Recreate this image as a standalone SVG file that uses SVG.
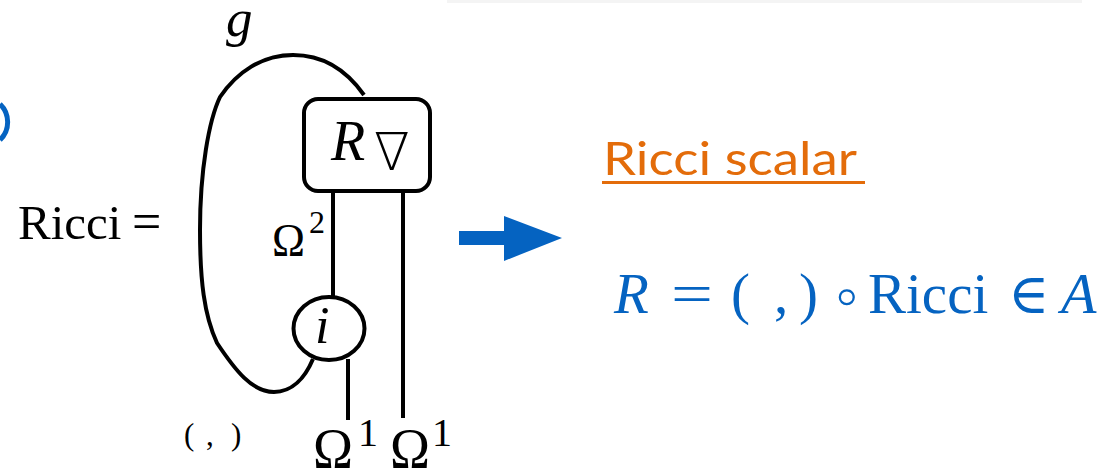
<svg xmlns="http://www.w3.org/2000/svg" width="1115" height="476" viewBox="0 0 1115 476">
  <style>
    .serif { font-family: "Liberation Serif", "DejaVu Serif", serif; fill: #000; }
    .it { font-style: italic; }
    .math { font-family: "DejaVu Sans", "DejaVu Serif", sans-serif; font-weight: 200; }
    .wire { fill: none; stroke: #000; stroke-width: 4; stroke-linecap: butt; stroke-linejoin: round; }
    .blue { fill: #0563C1; }
    .orange { fill: #E36C0A; font-family: "Lato", "Open Sans", sans-serif; }
  </style>
  <rect id="topline" x="447" y="0" width="635" height="3" fill="#f4f4f4"/>
  <path id="blue-ring" d="M 0 104 A 25 25 0 0 1 0 140" fill="none" stroke="#0563C1" stroke-width="5"/>
  <g id="ricci-label">
    <text class="serif" x="18" y="239" font-size="49">Ricci</text>
    <text class="serif" x="132" y="239" font-size="52">=</text>
  </g>
  <g id="g-label">
    <text class="serif it" x="226" y="36" font-size="53">g</text>
  </g>
  <g id="connectors">
    <path class="wire" d="M 364 95 C 345 68, 322 55, 293 55 C 262 55, 237 72, 220 97 C 209 120, 200 170, 200 230 C 200 280, 204 315, 217 343 C 235 370, 252 392, 274 392 C 292 392, 305 378, 313 359"/>
    <line class="wire" x1="333" y1="191" x2="333" y2="297"/>
    <line class="wire" x1="403" y1="191" x2="403" y2="418"/>
    <line class="wire" x1="348" y1="359" x2="348" y2="420"/>
  </g>
  <g id="node-R">
    <rect class="wire" x="304" y="99" width="126" height="92" rx="14" fill="#fff"/>
    <text class="serif it" x="331" y="160" font-size="56">R</text>
    <text class="math" x="374" y="170" font-size="52">∇</text>
  </g>
  <g id="node-i">
    <ellipse class="wire" cx="329" cy="328.5" rx="35.5" ry="31.5" fill="#fff"/>
    <text class="serif it" x="315" y="343" font-size="52">i</text>
  </g>
  <g id="omega2">
    <text class="serif" x="272" y="256" font-size="46" textLength="33" lengthAdjust="spacingAndGlyphs">Ω</text>
    <text class="serif" x="309" y="233" font-size="32">2</text>
  </g>
  <g id="pairing">
    <text class="serif" font-size="31" y="445"><tspan x="184">(</tspan><tspan x="206">,</tspan><tspan x="231">)</tspan></text>
  </g>
  <g id="omega1-a">
    <text class="serif" x="313" y="468" font-size="58" textLength="40" lengthAdjust="spacingAndGlyphs">Ω</text>
    <text class="serif" x="358" y="446" font-size="40">1</text>
  </g>
  <g id="omega1-b">
    <text class="serif" x="390" y="468" font-size="58" textLength="40" lengthAdjust="spacingAndGlyphs">Ω</text>
    <text class="serif" x="432" y="446" font-size="40">1</text>
  </g>
  <g id="arrow">
    <polygon class="blue" points="459,231 504,231 504,216 562,238 504,261 504,245 459,245"/>
  </g>
  <g id="title">
    <text class="orange" x="603" y="175" font-size="47" textLength="254" lengthAdjust="spacingAndGlyphs">Ricci scalar</text>
    <rect x="602" y="181" width="263" height="3" fill="#E36C0A"/>
  </g>
  <g id="formula">
    <text class="serif it blue" x="614" y="313" font-size="57">R</text>
    <text class="serif blue" x="671" y="313" font-size="57" textLength="42" lengthAdjust="spacingAndGlyphs">=</text>
    <text class="serif blue" x="731" y="313" font-size="57">(</text>
    <text class="serif blue" x="774" y="313" font-size="57">,</text>
    <text class="serif blue" x="799" y="313" font-size="57">)</text>
    <text class="math blue" x="828" y="316" font-size="60">∘</text>
    <text class="serif blue" x="868" y="313" font-size="57">Ricci</text>
    <text class="math blue" x="1008" y="313" font-size="56">∈</text>
    <text class="serif it blue" x="1061" y="313" font-size="58">A</text>
  </g>
</svg>
